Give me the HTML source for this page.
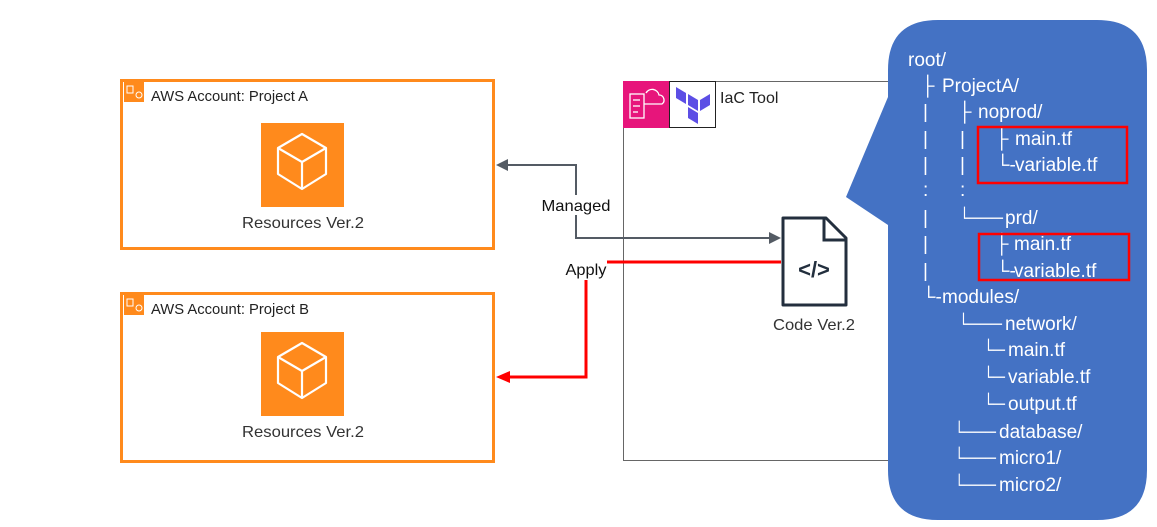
<!DOCTYPE html>
<html><head><meta charset="utf-8"><style>
html,body{margin:0;padding:0;background:#fff;}
svg{display:block;}
</style></head><body>
<svg width="1157" height="527" xmlns="http://www.w3.org/2000/svg" font-family="Liberation Sans, Arial, sans-serif">
<!-- Account A -->
<rect x="121.5" y="80.5" width="372" height="168" fill="#fff" stroke="#ff8a1c" stroke-width="3"/>
<rect x="124" y="82" width="20" height="20" fill="#ff8a1c"/>
<rect x="127" y="86" width="6" height="7" fill="none" stroke="#fff" stroke-width="1"/>
<circle cx="139" cy="95" r="3" fill="none" stroke="#fff" stroke-width="1"/>
<text x="151" y="101" font-size="15" fill="#222" textLength="157" lengthAdjust="spacingAndGlyphs">AWS Account: Project A</text>
<rect x="261" y="123" width="83" height="84" fill="#ff8a1c"/>
<g fill="none" stroke="#fff" stroke-width="2.2" stroke-linejoin="round">
<polygon points="302,134 326,148 326,174 302,189 278,174 278,148"/>
<polyline points="278,148 302,162 326,148"/><line x1="302" y1="162" x2="302" y2="189"/>
</g>
<text x="303" y="228" font-size="16" fill="#333" text-anchor="middle" textLength="122" lengthAdjust="spacingAndGlyphs">Resources Ver.2</text>
<!-- Account B -->
<rect x="121.5" y="293.5" width="372" height="168" fill="#fff" stroke="#ff8a1c" stroke-width="3"/>
<rect x="124" y="295" width="20" height="20" fill="#ff8a1c"/>
<rect x="127" y="299" width="6" height="7" fill="none" stroke="#fff" stroke-width="1"/>
<circle cx="139" cy="308" r="3" fill="none" stroke="#fff" stroke-width="1"/>
<text x="151" y="314" font-size="15" fill="#222" textLength="158" lengthAdjust="spacingAndGlyphs">AWS Account: Project B</text>
<rect x="261" y="332" width="83" height="84" fill="#ff8a1c"/>
<g fill="none" stroke="#fff" stroke-width="2.2" stroke-linejoin="round">
<polygon points="302,343 326,357 326,383 302,398 278,383 278,357"/>
<polyline points="278,357 302,371 326,357"/><line x1="302" y1="371" x2="302" y2="398"/>
</g>
<text x="303" y="437" font-size="16" fill="#333" text-anchor="middle" textLength="122" lengthAdjust="spacingAndGlyphs">Resources Ver.2</text>
<!-- IaC box -->
<rect x="623.5" y="81.5" width="300" height="379" fill="#fff" stroke="#666" stroke-width="1"/>
<rect x="623" y="81" width="46" height="47" fill="#e7157b"/>
<g fill="none" stroke="#fff" stroke-width="1.3">
<rect x="630" y="94" width="14" height="24"/><line x1="633" y1="100" x2="640" y2="100"/><line x1="633" y1="106" x2="640" y2="106"/><line x1="633" y1="112" x2="638" y2="112"/>
<path d="M644 104 H662 a5 5 0 0 0 -3 -9 a7 7 0 0 0 -13 -2"/>
</g>
<rect x="669.5" y="81.5" width="46" height="46" fill="#fff" stroke="#222"/>
<g fill="#5c4ee5">
<polygon points="676,87 686,93 686,104 676,98"/><polygon points="688,94 698,100 698,111 688,105"/>
<polygon points="700,100 710,94 710,105 700,111"/><polygon points="688,107 698,113 698,124 688,118"/>
</g>
<text x="720" y="103" font-size="16" fill="#222">IaC Tool</text>
<!-- code file -->
<path d="M783 218 H826 L846 238 V305 H783 Z" fill="#fff" stroke="#232f3e" stroke-width="3" stroke-linejoin="round"/>
<path d="M824 218 V240 H846" fill="none" stroke="#232f3e" stroke-width="3"/>
<text x="814" y="277" font-size="22" font-weight="bold" fill="#232f3e" text-anchor="middle">&lt;/&gt;</text>
<text x="814" y="330" font-size="16" fill="#333" text-anchor="middle" textLength="82" lengthAdjust="spacingAndGlyphs">Code Ver.2</text>
<!-- managed connector -->
<polyline points="775,238 576,238 576,165 506,165" fill="none" stroke="#545b64" stroke-width="2"/>
<polygon points="496,165 508,159 508,171" fill="#545b64"/>
<polygon points="781,238 769,232 769,244" fill="#545b64"/>
<rect x="540" y="195" width="72" height="20" fill="#fff"/>
<text x="576" y="211" font-size="16" fill="#111" text-anchor="middle" textLength="69" lengthAdjust="spacingAndGlyphs">Managed</text>
<!-- apply -->
<polyline points="781,262 607,262" fill="none" stroke="#ff0000" stroke-width="3"/>
<polyline points="586,280 586,377 508,377" fill="none" stroke="#ff0000" stroke-width="3"/>
<polygon points="496,377 510,371 510,383" fill="#ff0000"/>
<text x="586" y="275" font-size="16" fill="#111" text-anchor="middle" textLength="41" lengthAdjust="spacingAndGlyphs">Apply</text>
<!-- bubble -->
<path d="M938 20 H1097 Q1147 20 1147 70 V470 Q1147 520 1097 520 H938 Q888 520 888 470 V225 L846 197 L888 97 V70 Q888 20 938 20 Z" fill="#4472c4"/>
<g fill="#fff" font-size="19" font-family="Liberation Sans, DejaVu Sans, sans-serif">
<text x="908" y="66">root/</text>
<text x="921" y="92">├</text><text x="942" y="92">ProjectA/</text>
<text x="923" y="118">|</text><text x="958" y="118">├</text><text x="978" y="118">noprod/</text>
<text x="923" y="145">|</text><text x="960" y="145">|</text><text x="995" y="145">├</text><text x="1015" y="145">main.tf</text>
<text x="923" y="171">|</text><text x="960" y="171">|</text><text x="996" y="171">└-</text><text x="1015" y="171">variable.tf</text>
<text x="923" y="196">:</text><text x="960" y="196">:</text>
<text x="923" y="224">|</text><text x="959" y="224" textLength="44" lengthAdjust="spacingAndGlyphs">└───</text><text x="1005" y="224">prd/</text>
<text x="923" y="250">|</text><text x="995" y="250">├</text><text x="1014" y="250">main.tf</text>
<text x="923" y="277">|</text><text x="996" y="277">└-</text><text x="1014" y="277">variable.tf</text>
<text x="922" y="303">└-</text><text x="942" y="303">modules/</text>
<text x="958" y="330" textLength="44" lengthAdjust="spacingAndGlyphs">└───</text><text x="1005" y="330">network/</text>
<text x="983" y="356" textLength="22" lengthAdjust="spacingAndGlyphs">└─</text><text x="1008" y="356">main.tf</text>
<text x="983" y="383" textLength="22" lengthAdjust="spacingAndGlyphs">└─</text><text x="1008" y="383">variable.tf</text>
<text x="983" y="410" textLength="22" lengthAdjust="spacingAndGlyphs">└─</text><text x="1008" y="410">output.tf</text>
<text x="954" y="438" textLength="42" lengthAdjust="spacingAndGlyphs">└───</text><text x="999" y="438">database/</text>
<text x="954" y="464" textLength="42" lengthAdjust="spacingAndGlyphs">└───</text><text x="999" y="464">micro1/</text>
<text x="954" y="491" textLength="42" lengthAdjust="spacingAndGlyphs">└───</text><text x="999" y="491">micro2/</text>
</g>
<rect x="978" y="127" width="149" height="56" fill="none" stroke="#ff0000" stroke-width="2.5"/>
<rect x="979" y="234" width="150" height="46" fill="none" stroke="#ff0000" stroke-width="2.5"/>
</svg>
</body></html>
